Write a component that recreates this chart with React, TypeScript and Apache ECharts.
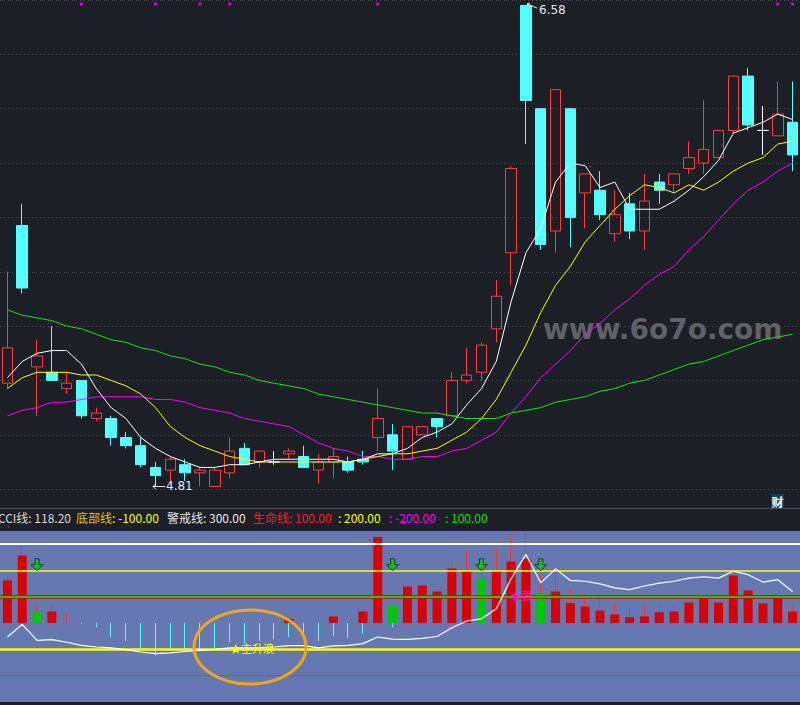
import React, { useEffect, useRef } from 'react';
import * as echarts from 'echarts';

// ---------- data ----------
const days = ['D01','D02','D03','D04','D05','D06','D07','D08','D09','D10','D11','D12','D13','D14','D15','D16','D17','D18','D19','D20','D21','D22','D23','D24','D25','D26','D27','D28','D29','D30','D31','D32','D33','D34','D35','D36','D37','D38','D39','D40','D41','D42','D43','D44','D45','D46','D47','D48','D49','D50','D51','D52','D53','D54'];

const opens = [5.19,5.77,5.25,5.23,5.17,5.20,5.06,5.06,4.99,4.96,4.88,4.87,4.89,4.86,4.81,4.86,4.95,4.90,4.90,4.93,4.92,4.87,4.90,4.90,4.91,4.99,5.00,4.91,5.00,5.06,5.07,5.20,5.23,5.39,5.67,6.58,6.20,5.75,6.20,5.89,5.90,5.74,5.85,5.75,5.93,5.92,5.98,6.00,6.02,6.12,6.32,6.12,6.10,6.15];
const closes = [5.32,5.54,5.29,5.20,5.19,5.07,5.08,4.99,4.96,4.89,4.85,4.91,4.86,4.87,4.87,4.94,4.89,4.94,4.90,4.94,4.88,4.90,4.92,4.87,4.90,5.06,4.94,5.03,5.03,5.03,5.20,5.22,5.33,5.51,5.98,6.23,5.70,6.27,5.80,5.96,5.81,5.81,5.75,5.86,5.90,5.96,6.02,6.05,6.12,6.32,6.14,6.12,6.18,6.03];
const lows = [5.17,5.52,5.07,5.20,5.15,5.06,5.05,4.96,4.95,4.88,4.81,4.82,4.83,4.81,4.81,4.84,4.89,4.88,4.89,4.91,4.88,4.82,4.84,4.86,4.89,4.94,4.87,4.91,5.00,4.99,5.07,5.19,5.20,5.34,5.55,6.07,5.68,5.67,5.69,5.76,5.79,5.71,5.72,5.68,5.85,5.89,5.96,5.96,6.02,6.11,6.12,6.03,6.10,5.97];
const highs = [5.60,5.85,5.35,5.40,5.23,5.20,5.10,5.07,5.01,4.99,4.90,4.92,4.91,4.88,4.88,4.99,4.97,4.94,4.94,4.95,4.96,4.93,4.95,4.92,4.94,5.17,5.04,5.03,5.03,5.06,5.23,5.32,5.34,5.57,5.99,6.58,6.20,6.27,6.20,5.96,5.97,5.90,5.89,5.96,5.96,5.96,6.08,6.23,6.12,6.32,6.35,6.21,6.30,6.30];

const maWhite = [5.21,5.27,5.30,5.31,5.31,5.26,5.17,5.10,5.06,4.99,4.95,4.92,4.90,4.88,4.88,4.89,4.89,4.90,4.91,4.91,4.91,4.91,4.91,4.90,4.91,4.93,4.93,4.95,4.99,5.01,5.04,5.11,5.17,5.27,5.49,5.67,5.76,5.93,6.00,5.99,5.91,5.93,5.83,5.83,5.83,5.86,5.90,5.95,6.01,6.11,6.13,6.15,6.18,6.16];
const maYellow = [5.17,5.21,5.23,5.23,5.23,5.22,5.22,5.20,5.18,5.15,5.10,5.03,4.99,4.96,4.94,4.92,4.91,4.90,4.90,4.90,4.90,4.90,4.90,4.90,4.91,4.92,4.93,4.93,4.94,4.95,4.98,5.01,5.06,5.13,5.23,5.33,5.45,5.55,5.62,5.71,5.77,5.83,5.88,5.92,5.91,5.89,5.92,5.90,5.93,5.97,6.00,6.02,6.07,6.08];
const maMagenta = [5.07,5.09,5.10,5.12,5.12,5.13,5.14,5.14,5.14,5.14,5.13,5.13,5.12,5.10,5.09,5.08,5.06,5.05,5.04,5.03,5.00,4.97,4.95,4.94,4.92,4.92,4.91,4.91,4.92,4.92,4.94,4.95,4.98,5.01,5.08,5.14,5.21,5.26,5.31,5.37,5.41,5.46,5.50,5.55,5.59,5.62,5.68,5.73,5.79,5.85,5.90,5.93,5.97,6.00];
const maGreen = [5.46,5.44,5.43,5.42,5.40,5.39,5.37,5.35,5.34,5.32,5.31,5.29,5.28,5.26,5.25,5.23,5.22,5.20,5.19,5.18,5.17,5.15,5.14,5.13,5.12,5.11,5.10,5.09,5.08,5.08,5.07,5.06,5.06,5.06,5.08,5.09,5.10,5.12,5.13,5.14,5.16,5.17,5.19,5.20,5.22,5.24,5.26,5.27,5.29,5.31,5.33,5.35,5.36,5.37];

const signalIdx = [5, 10, 13, 15, 25, 52, 53];
const signalLevel = 6.585;

// lower panel
const barVals = [162,257,42,44,null,null,null,null,null,null,null,null,null,null,null,null,null,null,null,16,null,null,25,null,44,327,66,139,143,120,208,197,172,197,234,244,113,120,76,63,48,33,22,25,41,44,78,94,78,181,124,75,94,44];
const wickVals = [177,295,67,76,35,null,null,null,null,null,null,null,null,null,null,null,null,null,null,null,null,null,null,null,null,null,null,null,null,null,234,272,244,280,339,348,181,187,129,111,95,76,63,67,71,66,null,null,null,null,null,null,null,63];
const cyanVals = [null,null,null,null,null,-3,-15,-53,-68,-97,-123,-106,-106,-100,-97,-72,-78,-68,-62,-53,-40,-68,-49,-57,-40,null,-15,null,null,null,null,null,null,null,null,null,null,null,null,null,null,null,null,null,null,null,null,null,null,null,null,null,null,null];
const cciVals = [-53,-5,-66,-63,-73,-85,-91,-94,-101,-110,-116,-113,-108,-104,-100,-94,-94,-94,-91,-86,-86,-94,-87,-85,-78,-53,-61,-62,-58,-51,-18,8,16,54,168,261,153,206,162,159,149,134,127,141,152,159,171,176,171,197,184,156,165,120];
const greenIdx = [2, 26, 32, 36];
const arrowLevel = 222;

const levelValues = [300, 200, 100, 100, -100, -200];
const levelColors = ['#ffffff', '#ffff00', '#c80000', '#00ff00', '#ffff00', '#ff00ff'];
const levelWidths = [2, 1.5, 3.5, 1.5, 2.5, 1];

const BG = '#1c1f26';
const UP = '#ff3c3c';
const DOWN = '#54ffff';

export default function App() {
  const ref = useRef<HTMLDivElement>(null);

  useEffect(() => {
    document.body.style.margin = '0';
    if (!ref.current) return;
    const chart = echarts.init(ref.current, null, { renderer: 'svg' });

    const ohlc = opens.map((o, i) => [o, closes[i], lows[i], highs[i]]);
    const wickData = wickVals.map((w) => (w == null ? '-' : [0, 0, 0, w]));
    const cyanData = cyanVals.map((c) => (c == null ? '-' : [0, 0, c, 0]));
    const bodyData = barVals.map((v, i) =>
      v == null
        ? null
        : greenIdx.includes(i)
        ? { value: v, itemStyle: { color: '#00c800' } }
        : v
    );

    const lineSeries = (data: number[], color: string) => ({
      type: 'line',
      xAxisIndex: 0,
      yAxisIndex: 0,
      data,
      showSymbol: false,
      symbol: 'none',
      lineStyle: { color, width: 1 },
      z: 4,
    });

    const textRow = [
      { x: 71, text: 'CCI线: 118.20', color: '#d8d8d8', align: 'right' },
      { x: 76, text: '底部线', color: '#e0c400', align: 'left' },
      { x: 112, text: ': -100.00', color: '#ffff00', align: 'left' },
      { x: 167, text: '警戒线: 300.00', color: '#e6e6e6', align: 'left' },
      { x: 253, text: '生命线: 100.00', color: '#ff1e1e', align: 'left' },
      { x: 338, text: ': 200.00', color: '#ffff00', align: 'left' },
      { x: 389, text: ': -200.00', color: '#ff00ff', align: 'left' },
      { x: 445, text: ': 100.00', color: '#00e000', align: 'left' },
    ];

    const option: any = {
      animation: false,
      backgroundColor: BG,
      grid: [
        { left: -2, width: 802, top: -1.5, height: 545 },
        { left: -2, width: 802, top: 531, height: 171 },
      ],
      xAxis: [
        { type: 'category', gridIndex: 0, data: days, boundaryGap: true, axisLine: { show: false }, axisTick: { show: false }, axisLabel: { show: false }, splitLine: { show: false } },
        { type: 'category', gridIndex: 1, data: days, boundaryGap: true, axisLine: { show: false }, axisTick: { show: false }, axisLabel: { show: false }, splitLine: { show: false } },
      ],
      yAxis: [
        {
          type: 'value', gridIndex: 0, min: 4.6, max: 6.6, interval: 0.2, z: 0,
          axisLine: { show: false }, axisTick: { show: false }, axisLabel: { show: false },
          splitLine: { show: true, lineStyle: { color: '#4c515c', width: 1, type: [1, 3] } },
        },
        {
          type: 'value', gridIndex: 1, min: -300, max: 350, z: 0,
          axisLine: { show: false }, axisTick: { show: false }, axisLabel: { show: false },
          splitLine: { show: false },
        },
      ],
      series: [
        {
          type: 'candlestick',
          xAxisIndex: 0,
          yAxisIndex: 0,
          data: ohlc,
          barWidth: 11,
          z: 3,
          itemStyle: {
            color: 'transparent',
            color0: DOWN,
            borderColor: UP,
            borderColor0: DOWN,
            borderColorDoji: '#ffffff',
            borderWidth: 1,
          },
        },
        lineSeries(maGreen, '#10e810'),
        lineSeries(maMagenta, '#ff00ff'),
        lineSeries(maYellow, '#ffff00'),
        lineSeries(maWhite, '#ffffff'),
        {
          type: 'scatter',
          xAxisIndex: 0,
          yAxisIndex: 0,
          symbol: 'rect',
          symbolSize: 3,
          itemStyle: { color: '#ff00ff' },
          data: signalIdx.map((i) => [i, signalLevel]),
          z: 5,
        },
        // lower panel
        {
          type: 'candlestick',
          xAxisIndex: 1,
          yAxisIndex: 1,
          data: wickData,
          barWidth: 1,
          z: 3,
          itemStyle: { color: '#ff3030', color0: '#ff3030', borderColor: '#ff3030', borderColor0: '#ff3030', borderColorDoji: '#ff3030', borderWidth: 1 },
        },
        {
          type: 'candlestick',
          xAxisIndex: 1,
          yAxisIndex: 1,
          data: cyanData,
          barWidth: 1,
          z: 3,
          itemStyle: { color: DOWN, color0: DOWN, borderColor: DOWN, borderColor0: DOWN, borderColorDoji: DOWN, borderWidth: 1 },
        },
        {
          type: 'bar',
          xAxisIndex: 1,
          yAxisIndex: 1,
          data: bodyData,
          barWidth: 9,
          z: 4,
          itemStyle: { color: '#dc0000' },
        },
        {
          type: 'line',
          xAxisIndex: 1,
          yAxisIndex: 1,
          data: cciVals,
          showSymbol: false,
          symbol: 'none',
          z: 5,
          lineStyle: { color: '#ffffff', width: 1.2 },
          markLine: {
            silent: true,
            symbol: 'none',
            label: { show: false },
            data: levelValues.map((v, k) => ({
              yAxis: v,
              lineStyle: { color: levelColors[k], width: levelWidths[k], type: 'solid' },
            })),
          },
        },
        {
          type: 'scatter',
          xAxisIndex: 1,
          yAxisIndex: 1,
          symbol: 'path://M4,0 L8,0 L8,6 L12,6 L6,12 L0,6 L4,6 Z',
          symbolSize: [12, 12],
          itemStyle: { color: '#00d000', borderColor: '#0a2a0a', borderWidth: 1 },
          data: greenIdx.map((i) => [i, arrowLevel]),
          z: 6,
        },
      ],
      graphic: [
        { type: 'rect', z: 1, shape: { x: 0, y: 531, width: 800, height: 171 }, style: { fill: '#6578b2' } },
        { type: 'line', z: 1, shape: { x1: 0, y1: 508.5, x2: 800, y2: 508.5 }, style: { stroke: '#4a4e57', lineWidth: 1 } },
        { type: 'rect', z: 10, shape: { x: 771, y: 494, width: 13, height: 14 }, style: { fill: '#0d3b6f' } },
        { type: 'text', z: 11, x: 777.5, y: 501, style: { text: '财', fill: '#ffffff', font: 'bold 12px "Noto Sans CJK SC"', align: 'center', verticalAlign: 'middle' } },
        ...textRow.map((t) => ({
          type: 'text', z: 10, x: t.x, y: 517,
          style: { text: t.text, fill: t.color, font: '12px "Noto Sans CJK SC"', align: t.align, verticalAlign: 'middle' },
        })),
        { type: 'text', z: 1, x: 543, y: 343, style: { text: 'www.6o7o.com', fill: '#5f6268', font: 'bold 28px "DejaVu Sans"', align: 'left', verticalAlign: 'bottom' } },
        // 6.58 annotation
        { type: 'polyline', z: 10, shape: { points: [[527, 4], [537, 8]] }, style: { stroke: '#e8e8e8', lineWidth: 1, fill: 'none' } },
        { type: 'polyline', z: 10, shape: { points: [[530, 3], [527, 4], [529, 7]] }, style: { stroke: '#e8e8e8', lineWidth: 1, fill: 'none' } },
        { type: 'text', z: 10, x: 539, y: 10, style: { text: '6.58', fill: '#e2e8f0', font: '12px "DejaVu Sans"', align: 'left', verticalAlign: 'middle' } },
        // 4.81 annotation
        { type: 'line', z: 10, shape: { x1: 153, y1: 486.5, x2: 165, y2: 486.5 }, style: { stroke: '#e8e8e8', lineWidth: 1 } },
        { type: 'polyline', z: 10, shape: { points: [[156, 483.5], [153, 486.5], [156, 489.5]] }, style: { stroke: '#e8e8e8', lineWidth: 1, fill: 'none' } },
        { type: 'text', z: 10, x: 166, y: 486, style: { text: '4.81', fill: '#e2e8f0', font: '12px "DejaVu Sans"', align: 'left', verticalAlign: 'middle' } },
        // lower annotations
        { type: 'ellipse', z: 10, shape: { cx: 250, cy: 647, rx: 56, ry: 37 }, style: { fill: 'none', stroke: '#f2a812', lineWidth: 3 } },
        { type: 'text', z: 10, x: 230, y: 648, style: { text: '★主升浪', fill: '#ffff00', font: '11px "Noto Sans CJK SC"', align: 'left', verticalAlign: 'middle' } },
        { type: 'text', z: 10, x: 510, y: 595, style: { text: '★强', fill: '#ff00ff', font: '11px "Noto Sans CJK SC"', align: 'left', verticalAlign: 'middle' } },
      ],
    };

    chart.setOption(option);
    return () => chart.dispose();
  }, []);

  return <div ref={ref} style={{ width: 800, height: 705 }} />;
}
